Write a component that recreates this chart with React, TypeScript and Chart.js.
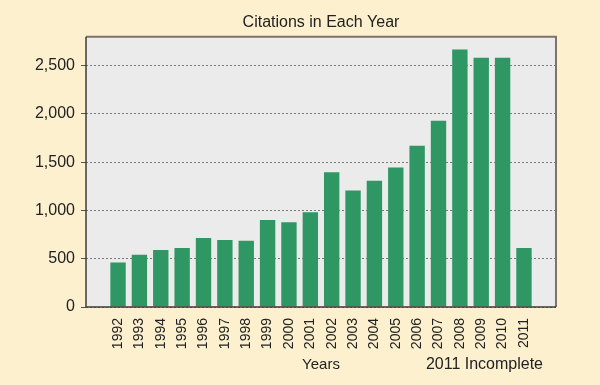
import React, { useEffect, useRef } from "react";
import { Chart, registerables } from "chart.js";

Chart.register(...registerables);

const years: number[] = [
  1992, 1993, 1994, 1995, 1996, 1997, 1998, 1999, 2000, 2001,
  2002, 2003, 2004, 2005, 2006, 2007, 2008, 2009, 2010, 2011,
];
const citations: number[] = [
  462, 540, 590, 610, 715, 695, 685, 900, 878, 982,
  1395, 1206, 1307, 1445, 1670, 1930, 2668, 2582, 2582, 610,
];
const yTicks: number[] = [0, 500, 1000, 1500, 2000, 2500];
const titleText = "Citations in Each Year";
const xTitleText = "Years";
const noteText = "2011 Incomplete";

const FONT = "'Liberation Sans', Arial, Helvetica, sans-serif";
const TEXT = "#222222";

const framePlugin = {
  id: "frame",
  beforeDraw(chart: any) {
    const { ctx, chartArea: a } = chart;
    ctx.save();
    ctx.fillStyle = "#ebebeb";
    ctx.fillRect(a.left, a.top, a.right - a.left, a.bottom - a.top);
    ctx.restore();
  },
  afterDraw(chart: any) {
    const { ctx, chartArea: a } = chart;
    ctx.save();
    ctx.lineWidth = 2;
    ctx.strokeStyle = "#7d7467";
    ctx.beginPath();
    ctx.moveTo(a.left, a.top);
    ctx.lineTo(a.right, a.top);
    ctx.lineTo(a.right, a.bottom);
    ctx.stroke();
    ctx.lineWidth = 1.5;
    ctx.strokeStyle = "#3f3c36";
    ctx.beginPath();
    ctx.moveTo(a.left, a.top);
    ctx.lineTo(a.left, a.bottom);
    ctx.lineTo(a.right, a.bottom);
    ctx.stroke();
    ctx.fillStyle = TEXT;
    ctx.font = `16px ${FONT}`;
    ctx.textAlign = "right";
    ctx.textBaseline = "middle";
    const xs = chart.scales.x;
    ctx.fillText(noteText, a.right - 13, xs.bottom - 20);
    ctx.restore();
  },
};

export default function App() {
  const ref = useRef<HTMLCanvasElement | null>(null);
  useEffect(() => {
    if (!ref.current) return;
    const chart = new Chart(ref.current, {
      type: "bar",
      data: {
        datasets: [
          {
            data: years.map((y, i) => ({ x: y, y: citations[i] })),
            backgroundColor: "#2f9763",
            borderWidth: 0,
            barPercentage: 0.72,
            categoryPercentage: 1,
          },
        ],
      },
      options: {
        responsive: false,
        animation: false,
        layout: { padding: { left: 0, right: 44, top: 0, bottom: 0 } },
        plugins: {
          legend: { display: false },
          tooltip: { enabled: false },
          title: {
            display: true,
            fullSize: false,
            text: titleText,
            color: TEXT,
            font: { family: FONT, size: 16, weight: "normal" },
            padding: { top: 12.5, bottom: 5 },
          },
        },
        scales: {
          x: {
            type: "linear",
            offset: false,
            min: 1990.5,
            max: 2012.5,
            afterBuildTicks: (scale: any) => {
              scale.ticks = years.map((v) => ({ value: v }));
            },
            afterFit: (scale: any) => {
              scale.height = 78;
            },
            grid: { display: false, drawTicks: false, offset: false },
            border: { display: false },
            ticks: {
              autoSkip: false,
              minRotation: 90,
              maxRotation: 90,
              padding: 11,
              color: TEXT,
              font: { family: FONT, size: 14 },
              callback: (v: any) => String(v),
            },
            title: {
              display: true,
              text: xTitleText,
              color: TEXT,
              font: { family: FONT, size: 15 },
              padding: { top: 0, bottom: 11 },
            },
          },
          y: {
            min: 0,
            max: 2800,
            afterBuildTicks: (scale: any) => {
              scale.ticks = yTicks.map((v) => ({ value: v }));
            },
            afterFit: (scale: any) => {
              scale.width = 86;
            },
            grid: {
              color: "#7a7a7a",
              lineWidth: 1,
              tickLength: 5,
              tickColor: "#555555",
              tickBorderDash: [],
            },
            border: { display: false, dash: [2, 2] },
            ticks: {
              padding: 6,
              color: TEXT,
              font: { family: FONT, size: 16 },
              callback: (v: any) => Number(v).toLocaleString("en-US"),
            },
          },
        },
      },
      plugins: [framePlugin],
    });
    return () => chart.destroy();
  }, []);
  return (
    <div
      style={{
        position: "fixed",
        left: 0,
        top: 0,
        width: 600,
        height: 385,
        background: "#fdf0cf",
      }}
    >
      <canvas ref={ref} width={600} height={385} />
    </div>
  );
}
